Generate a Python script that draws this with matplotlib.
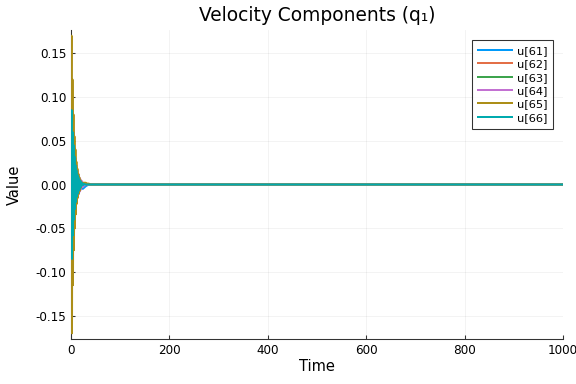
import matplotlib
matplotlib.use('Agg')
from matplotlib import pyplot as plt

# sample times (dense at the start, where the transient lives)
t = [0, 1, 2, 3, 4, 5, 6, 7, 8, 9, 10, 11, 12, 13, 14, 15, 16, 17, 18, 19, 20,
     22, 24, 26, 28, 30, 33, 36, 40, 45, 50, 60, 80, 100, 1000]

u61 = [0.000, 0.020, -0.030, 0.032, -0.035, 0.028, -0.026, 0.020, -0.018, 0.014,
       -0.012, 0.009, -0.010, 0.006, -0.008, 0.004, -0.006, 0.002, -0.005, 0.001,
       -0.004, -0.004, -0.005, -0.004, -0.003, -0.002, -0.001, 0.000, 0.000, 0.000,
       0.000, 0.000, 0.000, 0.000, 0.000]
u62 = [0.000, 0.030, -0.020, 0.040, -0.045, 0.035, -0.050, 0.030, -0.030, 0.022,
       -0.020, 0.015, -0.014, 0.010, -0.010, 0.007, -0.007, 0.005, -0.005, 0.003,
       -0.003, -0.002, 0.001, -0.001, 0.001, 0.000, 0.000, 0.000, 0.000, 0.000,
       0.000, 0.000, 0.000, 0.000, 0.000]
u63 = [0.000, -0.020, 0.035, -0.040, 0.030, -0.032, 0.024, -0.022, 0.018, -0.015,
       0.012, -0.010, 0.008, -0.007, 0.006, -0.005, 0.004, -0.003, 0.003, -0.002,
       0.002, 0.001, -0.001, 0.000, 0.000, 0.000, 0.000, 0.000, 0.000, 0.000,
       0.000, 0.000, 0.000, 0.000, 0.000]
u64 = [0.000, 0.030, -0.040, 0.065, -0.050, 0.060, -0.045, 0.042, -0.035, 0.030,
       -0.028, 0.022, -0.020, 0.016, -0.015, 0.012, -0.011, 0.008, -0.008, 0.006,
       -0.006, 0.004, -0.003, 0.002, -0.001, 0.001, 0.000, 0.000, 0.000, 0.000,
       0.000, 0.000, 0.000, 0.000, 0.000]
u65 = [0.000, 0.170, -0.170, 0.120, -0.115, 0.080, -0.075, 0.055, -0.050, 0.040,
       -0.034, 0.026, -0.022, 0.018, -0.015, 0.012, -0.010, 0.008, -0.007, 0.005,
       -0.004, 0.002, 0.002, 0.002, 0.002, 0.002, 0.001, 0.001, 0.000, 0.000,
       0.000, 0.000, 0.000, 0.000, 0.000]
u66 = [0.000, 0.085, -0.085, 0.060, -0.058, 0.045, -0.040, 0.032, -0.028, 0.022,
       -0.020, 0.016, -0.014, 0.011, -0.010, 0.008, -0.007, 0.005, -0.005, 0.004,
       -0.003, 0.002, -0.001, 0.001, 0.000, 0.000, 0.000, 0.000, 0.000, 0.000,
       0.000, 0.000, 0.000, 0.000, 0.000]

series = [u61, u62, u63, u64, u65, u66]
labels = ['u[61]', 'u[62]', 'u[63]', 'u[64]', 'u[65]', 'u[66]']
colors = ['#009AFA', '#E36F47', '#3EA44E', '#C371D2', '#AC8E18', '#00AAAE']

fig = plt.figure(figsize=(6, 4), dpi=96)
ax = fig.add_axes([71/576, 1 - 339/384, (563 - 71)/576, (339 - 30)/384])

for y, lab, c in zip(series, labels, colors):
    ax.plot(t, y, color=c, lw=1.5, label=lab, zorder=3)

ax.set_xlim(0, 1000)
ax.set_ylim(-0.1765, 0.1765)
ax.set_xticks([0, 200, 400, 600, 800, 1000])
ax.set_yticks([-0.15, -0.10, -0.05, 0.00, 0.05, 0.10, 0.15])
ax.set_yticklabels(['-0.15', '-0.10', '-0.05', '0.00', '0.05', '0.10', '0.15'])
ax.grid(True, color='black', alpha=0.06, lw=0.6)
ax.set_axisbelow(True)
for s in ['top', 'right']:
    ax.spines[s].set_visible(False)
for s in ['left', 'bottom']:
    ax.spines[s].set_color('#333333')
    ax.spines[s].set_zorder(1)
ax.tick_params(direction='in', labelsize=9, length=3, color='#333333')

ax.set_title('Velocity Components (q₁)', fontsize=14, pad=7)
ax.set_xlabel('Time', fontsize=11, labelpad=2)
ax.set_ylabel('Value', fontsize=11, labelpad=10)

leg = ax.legend(loc='upper right', fontsize=8.5, frameon=True, fancybox=False,
                edgecolor='black', handlelength=3.0, labelspacing=0.3,
                borderpad=0.5, handletextpad=0.4, borderaxespad=0.9)
leg.get_frame().set_linewidth(0.8)
leg.set_zorder(5)

fig.savefig('out.png', dpi=96)
